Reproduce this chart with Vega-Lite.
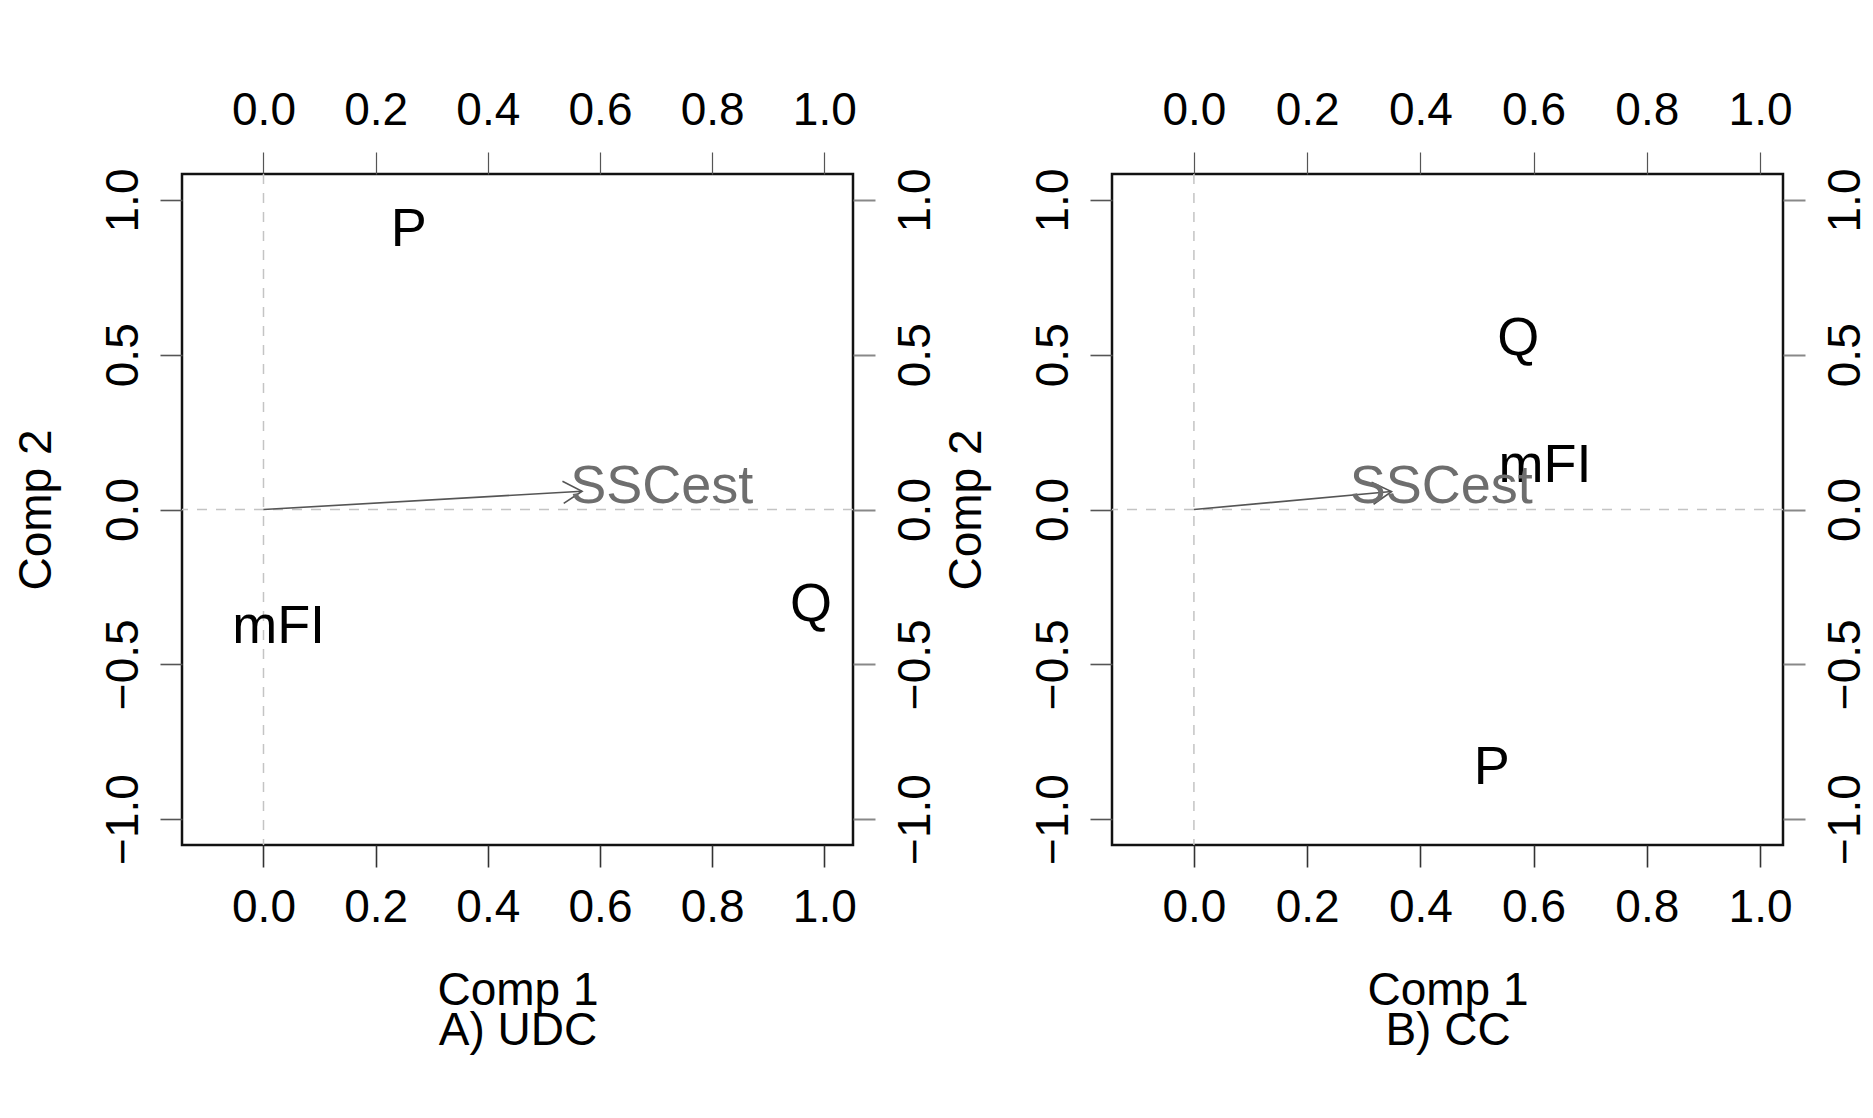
{
  "$schema": "https://vega.github.io/schema/vega-lite/v6.json",
  "background": "white",
  "padding": {"left": 11, "top": 85, "right": 0, "bottom": 0},
  "datasets": {
    "zero": [{"v": 0}],
    "udc_scores": [
      {"label": "P", "comp1": 0.259, "comp2": 0.903},
      {"label": "Q", "comp1": 0.976, "comp2": -0.307},
      {"label": "mFI", "comp1": 0.027, "comp2": -0.380}
    ],
    "cc_scores": [
      {"label": "P", "comp1": 0.526, "comp2": -0.835},
      {"label": "Q", "comp1": 0.573, "comp2": 0.552},
      {"label": "mFI", "comp1": 0.620, "comp2": 0.139}
    ],
    "udc_loadings": [
      {"label": "SSCest", "comp1": 0.71, "comp2": 0.074, "tip1": 0.568, "tip2": 0.059, "origin1": 0, "origin2": 0}
    ],
    "cc_loadings": [
      {"label": "SSCest", "comp1": 0.437, "comp2": 0.073, "tip1": 0.349, "tip2": 0.058, "origin1": 0, "origin2": 0}
    ]
  },
  "spacing": 259,
  "bounds": "flush",
  "hconcat": [
    {
      "width": 671,
      "height": 671,
      "resolve": {"axis": {"x": "independent", "y": "independent"}},
      "layer": [
        {
          "data": {"name": "zero"},
          "mark": {"type": "rule", "color": "#c4c4c4", "strokeDash": [10, 9], "strokeWidth": 1.5},
          "encoding": {
            "x": {"field": "v", "type": "quantitative",
              "scale": {"domain": [-0.1453, 1.0511], "nice": false, "zero": false},
              "axis": {"orient": "bottom", "values": [0, 0.2, 0.4, 0.6, 0.8, 1], "format": ".1f",
                "title": ["Comp 1", "A) UDC"], "titleX": 335.5, "titleY": 123, "titleAlign": "center",
                "titleBaseline": "top", "titleLineHeight": 40}}
          }
        },
        {
          "data": {"name": "zero"},
          "mark": {"type": "rule", "color": "#c4c4c4", "strokeDash": [10, 9], "strokeWidth": 1.5},
          "encoding": {
            "y": {"field": "v", "type": "quantitative",
              "scale": {"domain": [-1.084, 1.084], "nice": false, "zero": false},
              "axis": {"orient": "left", "values": [-1, -0.5, 0, 0.5, 1], "format": ".1f",
                "labelAngle": 270, "labelAlign": "center", "labelBaseline": "bottom", "labelPadding": 13,
                "tickColor": "#555",
                "title": "Comp 2", "titleAngle": 270, "titleX": -132, "titleY": 335.5,
                "titleAlign": "center", "titleBaseline": "alphabetic"}}
          }
        },
        {
          "data": {"name": "udc_scores"},
          "mark": {"type": "text", "fontSize": 54, "color": "black", "align": "center", "baseline": "middle", "font": "Liberation Sans"},
          "encoding": {
            "x": {"field": "comp1", "type": "quantitative",
              "scale": {"domain": [-0.1453, 1.0511], "nice": false, "zero": false},
              "axis": {"orient": "top", "values": [0, 0.2, 0.4, 0.6, 0.8, 1], "format": ".1f", "title": null, "tickColor": "#555", "tickWidth": 1.2}},
            "y": {"field": "comp2", "type": "quantitative",
              "scale": {"domain": [-1.084, 1.084], "nice": false, "zero": false},
              "axis": {"orient": "right", "values": [-1, -0.5, 0, 0.5, 1], "format": ".1f",
                "labelAngle": 270, "labelAlign": "center", "labelBaseline": "top", "title": null, "tickColor": "#888", "tickWidth": 2}},
            "text": {"field": "label", "type": "nominal"}
          }
        },
        {
          "data": {"name": "udc_loadings"},
          "mark": {"type": "rule", "color": "#555555", "strokeWidth": 1.6},
          "encoding": {
            "x": {"field": "origin1", "type": "quantitative", "axis": null},
            "y": {"field": "origin2", "type": "quantitative", "axis": null},
            "x2": {"field": "tip1"},
            "y2": {"field": "tip2"}
          }
        },
        {
          "data": {"name": "udc_loadings"},
          "mark": {"type": "point", "shape": "M -1 -0.58 L 0 0 L -1 0.58", "filled": false, "size": 1444, "stroke": "#555555", "strokeWidth": 1.6, "opacity": 1, "angle": 356.7},
          "encoding": {
            "x": {"field": "tip1", "type": "quantitative", "axis": null},
            "y": {"field": "tip2", "type": "quantitative", "axis": null}
          }
        },
        {
          "data": {"name": "udc_loadings"},
          "mark": {"type": "text", "fontSize": 54, "color": "#6e6e6e", "align": "center", "baseline": "middle", "font": "Liberation Sans"},
          "encoding": {
            "x": {"field": "comp1", "type": "quantitative", "axis": null},
            "y": {"field": "comp2", "type": "quantitative", "axis": null},
            "text": {"field": "label", "type": "nominal"}
          }
        }
      ]
    },
    {
      "width": 671,
      "height": 671,
      "resolve": {"axis": {"x": "independent", "y": "independent"}},
      "layer": [
        {
          "data": {"name": "zero"},
          "mark": {"type": "rule", "color": "#c4c4c4", "strokeDash": [10, 9], "strokeWidth": 1.5},
          "encoding": {
            "x": {"field": "v", "type": "quantitative",
              "scale": {"domain": [-0.1447, 1.0406], "nice": false, "zero": false},
              "axis": {"orient": "bottom", "values": [0, 0.2, 0.4, 0.6, 0.8, 1], "format": ".1f",
                "title": ["Comp 1", "B) CC"], "titleX": 335.5, "titleY": 123, "titleAlign": "center",
                "titleBaseline": "top", "titleLineHeight": 40}}
          }
        },
        {
          "data": {"name": "zero"},
          "mark": {"type": "rule", "color": "#c4c4c4", "strokeDash": [10, 9], "strokeWidth": 1.5},
          "encoding": {
            "y": {"field": "v", "type": "quantitative",
              "scale": {"domain": [-1.084, 1.084], "nice": false, "zero": false},
              "axis": {"orient": "left", "values": [-1, -0.5, 0, 0.5, 1], "format": ".1f",
                "labelAngle": 270, "labelAlign": "center", "labelBaseline": "bottom", "labelPadding": 13,
                "tickColor": "#555",
                "title": "Comp 2", "titleAngle": 270, "titleX": -132, "titleY": 335.5,
                "titleAlign": "center", "titleBaseline": "alphabetic"}}
          }
        },
        {
          "data": {"name": "cc_scores"},
          "mark": {"type": "text", "fontSize": 54, "color": "black", "align": "center", "baseline": "middle", "font": "Liberation Sans"},
          "encoding": {
            "x": {"field": "comp1", "type": "quantitative",
              "scale": {"domain": [-0.1447, 1.0406], "nice": false, "zero": false},
              "axis": {"orient": "top", "values": [0, 0.2, 0.4, 0.6, 0.8, 1], "format": ".1f", "title": null, "tickColor": "#555", "tickWidth": 1.2}},
            "y": {"field": "comp2", "type": "quantitative",
              "scale": {"domain": [-1.084, 1.084], "nice": false, "zero": false},
              "axis": {"orient": "right", "values": [-1, -0.5, 0, 0.5, 1], "format": ".1f",
                "labelAngle": 270, "labelAlign": "center", "labelBaseline": "top", "title": null, "tickColor": "#888", "tickWidth": 2}},
            "text": {"field": "label", "type": "nominal"}
          }
        },
        {
          "data": {"name": "cc_loadings"},
          "mark": {"type": "rule", "color": "#555555", "strokeWidth": 1.6},
          "encoding": {
            "x": {"field": "origin1", "type": "quantitative", "axis": null},
            "y": {"field": "origin2", "type": "quantitative", "axis": null},
            "x2": {"field": "tip1"},
            "y2": {"field": "tip2"}
          }
        },
        {
          "data": {"name": "cc_loadings"},
          "mark": {"type": "point", "shape": "M -1 -0.58 L 0 0 L -1 0.58", "filled": false, "size": 1444, "stroke": "#555555", "strokeWidth": 1.6, "opacity": 1, "angle": 354.8},
          "encoding": {
            "x": {"field": "tip1", "type": "quantitative", "axis": null},
            "y": {"field": "tip2", "type": "quantitative", "axis": null}
          }
        },
        {
          "data": {"name": "cc_loadings"},
          "mark": {"type": "text", "fontSize": 54, "color": "#6e6e6e", "align": "center", "baseline": "middle", "font": "Liberation Sans"},
          "encoding": {
            "x": {"field": "comp1", "type": "quantitative", "axis": null},
            "y": {"field": "comp2", "type": "quantitative", "axis": null},
            "text": {"field": "label", "type": "nominal"}
          }
        }
      ]
    }
  ],
  "config": {
    "font": "Liberation Sans",
    "view": {"stroke": "#111111", "strokeWidth": 2.5},
    "axis": {
      "domain": false,
      "grid": false,
      "ticks": true,
      "tickSize": 22,
      "tickColor": "#333333",
      "tickWidth": 1.6,
      "labelFont": "Liberation Sans",
      "labelFontSize": 46,
      "labelColor": "black",
      "labelPadding": 18,
      "labelFlush": false,
      "labelOverlap": false,
      "titleFont": "Liberation Sans",
      "titleFontSize": 46,
      "titleFontWeight": "normal",
      "titleColor": "black"
    }
  }
}
